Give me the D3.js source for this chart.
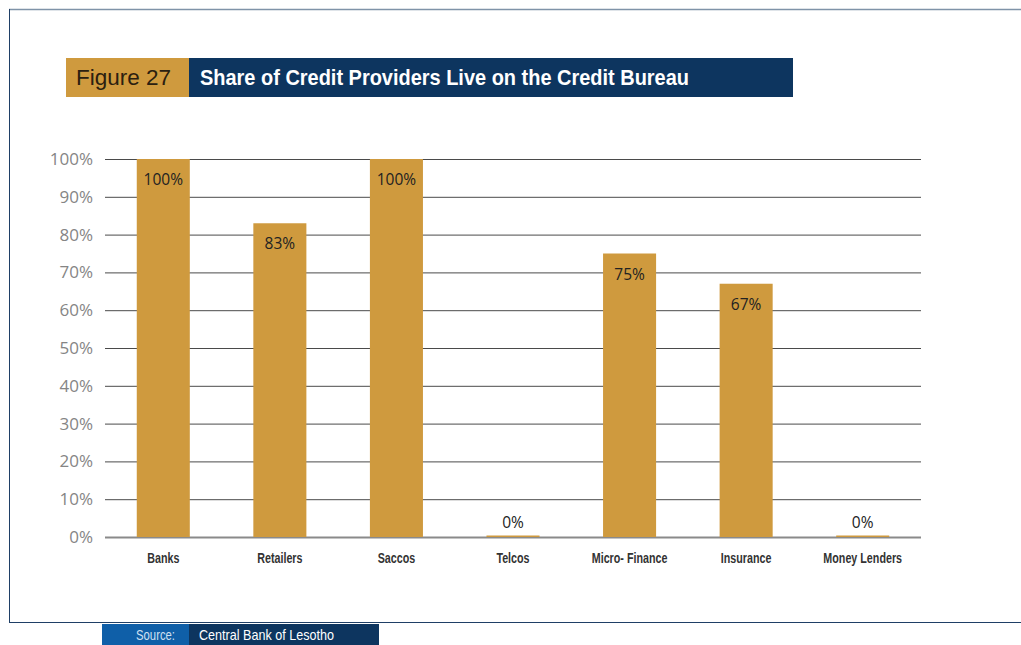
<!DOCTYPE html>
<html>
<head>
<meta charset="utf-8">
<script src="https://cdn.jsdelivr.net/npm/d3@7"></script>
<style>
  body { margin: 0; background: #fff; }
  svg { display: block; }
</style>
</head>
<body>
<div id="chart"></div>
<script>
var categories = ['Banks', 'Retailers', 'Saccos', 'Telcos', 'Micro- Finance', 'Insurance', 'Money Lenders'];
var shares = [100, 83, 100, 0, 75, 67, 0];
var yTicks = [0, 10, 20, 30, 40, 50, 60, 70, 80, 90, 100];

var W = 1021, H = 645;
var narrow = '"Liberation Sans", Arial, sans-serif';
var sans = '"Open Sans", "Noto Sans", sans-serif';

var svg = d3.select('#chart').append('svg')
    .attr('width', W)
    .attr('height', H);

// squeeze a text horizontally, like a condensed face
function condensed(sel, k){
    sel.attr('transform', function(){
        var cx = +d3.select(this).attr('x');
        return 'translate(' + cx + ',0) scale(' + k + ',1) translate(' + (-cx) + ',0)';
    });
}

// frame
svg.append('line').attr('x1', 9).attr('x2', W).attr('y1', 9.5).attr('y2', 9.5)
    .attr('stroke', '#7f93a8').attr('stroke-width', 1.5);
svg.append('line').attr('x1', 9.5).attr('x2', 9.5).attr('y1', 9).attr('y2', 622)
    .attr('stroke', '#1f3f66').attr('stroke-width', 1);
svg.append('line').attr('x1', 9).attr('x2', W).attr('y1', 622.5).attr('y2', 622.5)
    .attr('stroke', '#1f3f66').attr('stroke-width', 1.2);

// title bar
svg.append('rect').attr('x', 66).attr('y', 58).attr('width', 123).attr('height', 39).attr('fill', '#cf9a3e');
svg.append('rect').attr('x', 189).attr('y', 58).attr('width', 604).attr('height', 39).attr('fill', '#0d355f');
svg.append('text').attr('x', 76).attr('y', 85)
    .style('font-family', narrow).style('font-size', '22px').attr('fill', '#2b2010')
    .attr('textLength', 95).attr('lengthAdjust', 'spacingAndGlyphs')
    .text('Figure  27');
svg.append('text').attr('x', 200).attr('y', 85)
    .style('font-family', narrow).style('font-size', '22px').style('font-weight', 'bold').attr('fill', '#fff')
    .attr('textLength', 489).attr('lengthAdjust', 'spacingAndGlyphs')
    .text('Share of Credit Providers Live on the Credit Bureau');

// source bar
svg.append('rect').attr('x', 102).attr('y', 624).attr('width', 87).attr('height', 21).attr('fill', '#0f5fa8');
svg.append('rect').attr('x', 189).attr('y', 624).attr('width', 190).attr('height', 21).attr('fill', '#0d355f');
svg.append('text').attr('x', 136).attr('y', 640)
    .style('font-family', narrow).style('font-size', '15px').attr('fill', '#cfe0f2')
    .attr('textLength', 39).attr('lengthAdjust', 'spacingAndGlyphs')
    .text('Source:');
svg.append('text').attr('x', 199).attr('y', 640)
    .style('font-family', narrow).style('font-size', '15px').attr('fill', '#fff')
    .attr('textLength', 135).attr('lengthAdjust', 'spacingAndGlyphs')
    .text('Central Bank of Lesotho');

// plot
var x = d3.scaleBand().domain(categories).range([105, 921]).padding(0);
var y = d3.scaleLinear().domain([0, 100]).range([537, 159]);
var barW = x.bandwidth() * 0.455;

var yAxis = d3.axisLeft(y)
    .tickValues(yTicks)
    .tickSize(-(921 - 105))
    .tickPadding(12)
    .tickFormat(function(d){ return d + '%'; });

var gy = svg.append('g')
    .attr('class', 'y axis')
    .attr('transform', 'translate(105,0)')
    .call(yAxis);

gy.select('.domain').remove();
gy.selectAll('line')
    .attr('stroke', function(d){ return d === 0 ? '#8a8a8a' : '#4a4a4a'; })
    .attr('stroke-width', function(d){ return d === 0 ? 2 : 1; });
gy.selectAll('text')
    .attr('x', -12)
    .style('font-family', sans)
    .style('font-size', '17px')
    .attr('fill', '#858585');

var bars = svg.append('g').attr('class', 'bars');

bars.selectAll('rect')
    .data(shares)
    .enter().append('rect')
    .attr('x', function(d, i){ return x(categories[i]) + (x.bandwidth() - barW) / 2; })
    .attr('y', function(d){ return d > 0 ? y(d) : y(0) - 1.5; })
    .attr('width', barW)
    .attr('height', function(d){ return d > 0 ? y(0) - y(d) : 1.5; })
    .attr('fill', '#cf9a3e');

bars.selectAll('text')
    .data(shares)
    .enter().append('text')
    .attr('x', function(d, i){ return x(categories[i]) + x.bandwidth() / 2; })
    .attr('y', function(d){ return d > 0 ? y(d) + 26 : y(0) - 9; })
    .attr('text-anchor', 'middle')
    .style('font-family', sans)
    .style('font-size', '15.5px')
    .attr('fill', '#222')
    .text(function(d){ return d + '%'; });

svg.append('g').selectAll('text')
    .data(categories)
    .enter().append('text')
    .attr('x', function(d){ return x(d) + x.bandwidth() / 2; })
    .attr('y', 563)
    .attr('text-anchor', 'middle')
    .style('font-family', narrow)
    .style('font-size', '14.5px')
    .style('font-weight', 'bold')
    .attr('fill', '#333')
    .text(function(d){ return d; })
    .call(condensed, 0.74);
</script>
</body>
</html>
